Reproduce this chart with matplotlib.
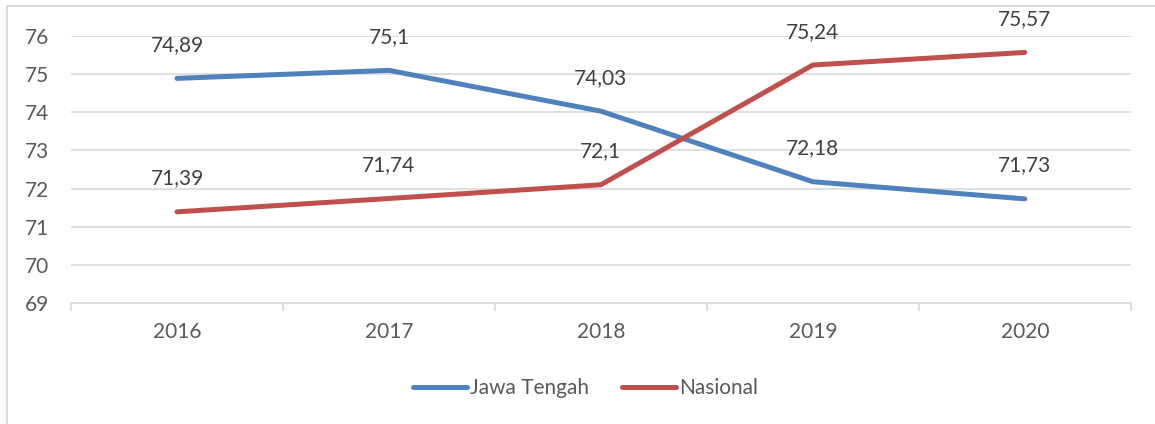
import matplotlib.pyplot as plt
from matplotlib.patches import Rectangle

years = ['2016', '2017', '2018', '2019', '2020']
jawa_tengah = [74.89, 75.1, 74.03, 72.18, 71.73]
nasional = [71.39, 71.74, 72.1, 75.24, 75.57]
y_ticks = [69, 70, 71, 72, 73, 74, 75, 76]

text_color = '#595959'
grid_color = '#d9d9d9'
blue = '#4f81bd'
red = '#c0504d'

plt.rcParams['font.family'] = ['Lato', 'DejaVu Sans']

fig = plt.figure(figsize=(11.55, 4.24), dpi=100)
ax = fig.add_axes([0.0615, 0.2854, 0.9175, 0.6296])

x = list(range(len(years)))
ax.plot(x, jawa_tengah, color=blue, linewidth=3.6, solid_capstyle='round', label='Jawa Tengah')
ax.plot(x, nasional, color=red, linewidth=3.6, solid_capstyle='round', label='Nasional')

def fmt(v):
    return ('%g' % v).replace('.', ',')

for series in (jawa_tengah, nasional):
    for i, v in enumerate(series):
        ax.annotate(fmt(v), (i, v), xytext=(0, 24), textcoords='offset points',
                    ha='center', va='center', fontsize=15, color='#404040')

ax.set_xlim(-0.5, len(years) - 0.5)
ax.set_ylim(69, 76)
ax.set_yticks(y_ticks)
ax.set_xticks(x)
ax.set_xticklabels(years)
ax.set_xticks([i - 0.5 for i in range(len(years) + 1)], minor=True)
ax.tick_params(axis='x', which='major', length=0, pad=14, labelsize=15, labelcolor=text_color)
ax.tick_params(axis='x', which='minor', length=6, color=grid_color, width=1.2)
ax.tick_params(axis='y', length=0, pad=16, labelsize=15, labelcolor=text_color)
ax.grid(axis='y', color=grid_color, linewidth=1.2)
ax.set_axisbelow(True)
for s in ['top', 'right', 'left']:
    ax.spines[s].set_visible(False)
ax.spines['bottom'].set_color(grid_color)
ax.spines['bottom'].set_linewidth(1.2)

leg = fig.legend(loc='center', bbox_to_anchor=(0.507, 0.085), ncol=2, frameon=False,
                 fontsize=15, handlelength=2.6, handletextpad=0.15, columnspacing=1.6)
for t in leg.get_texts():
    t.set_color(text_color)

fig.patches.append(Rectangle((7 / 1155, -0.1), 1.1, 1.1 - 6 / 424, transform=fig.transFigure,
                             fill=False, edgecolor=grid_color, linewidth=1.5))

fig.savefig('out.png', dpi=100)
